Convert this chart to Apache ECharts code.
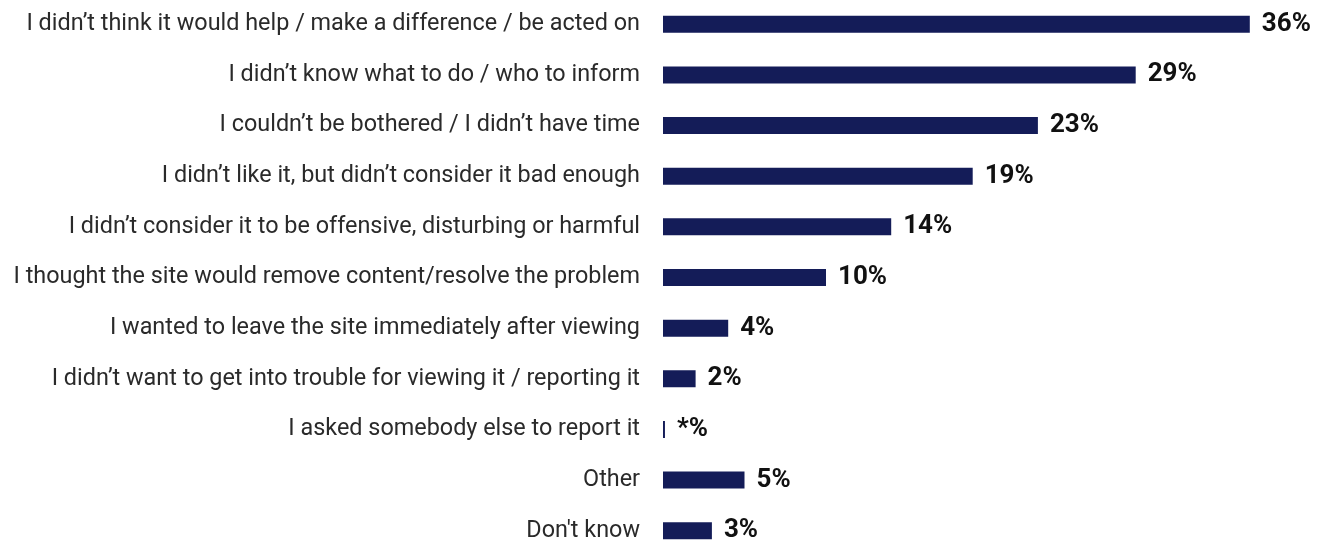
<!DOCTYPE html>
<html>
<head>
<meta charset="utf-8">
<script src="https://cdn.jsdelivr.net/npm/echarts@6/dist/echarts.min.js"></script>
<style>
  html, body { margin: 0; padding: 0; background: #ffffff; }
  #chart { width: 1328px; height: 545px; }
</style>
</head>
<body>
<div id="chart"></div>
<script>
// Reasons for not reporting, share of respondents (%)
const categories = [
  "I didn\u2019t think it would help / make a difference / be acted on",
  "I didn\u2019t know what to do / who to inform",
  "I couldn\u2019t be bothered / I didn\u2019t have time",
  "I didn\u2019t like it, but didn\u2019t consider it bad enough",
  "I didn\u2019t consider it to be offensive, disturbing or harmful",
  "I thought the site would remove content/resolve the problem",
  "I wanted to leave the site immediately after viewing",
  "I didn\u2019t want to get into trouble for viewing it / reporting it",
  "I asked somebody else to report it",
  "Other",
  "Don't know"
];
// "*" marks a share below 0.5%
const values = [36, 29, 23, 19, 14, 10, 4, 2, 0.12, 5, 3];
const valueLabels = ["36%", "29%", "23%", "19%", "14%", "10%", "4%", "2%", "*%", "5%", "3%"];

const chart = echarts.init(document.getElementById('chart'), null, { renderer: 'canvas' });

chart.setOption({
  animation: false,
  backgroundColor: '#ffffff',
  grid: {
    left: 663, width: 652, top: -1, height: 557,
    containLabel: false,
    outerBoundsMode: 'none'
  },
  xAxis: {
    type: 'value',
    min: 0,
    max: 40,
    show: false
  },
  yAxis: {
    type: 'category',
    inverse: true,
    data: categories,
    axisLine: { show: false },
    axisTick: { show: false },
    splitLine: { show: false },
    axisLabel: {
      margin: 23,
      color: '#2a2a2a',
      fontFamily: 'Roboto',
      fontSize: 23.4
    }
  },
  series: [{
    type: 'bar',
    data: values,
    barWidth: 17,
    itemStyle: { color: '#141c58' },
    label: {
      show: true,
      position: 'right',
      distance: 12,
      color: '#111111',
      fontFamily: 'Roboto',
      fontWeight: 'bold',
      fontSize: 26,
      formatter: p => valueLabels[p.dataIndex]
    }
  }]
});
</script>
</body>
</html>
